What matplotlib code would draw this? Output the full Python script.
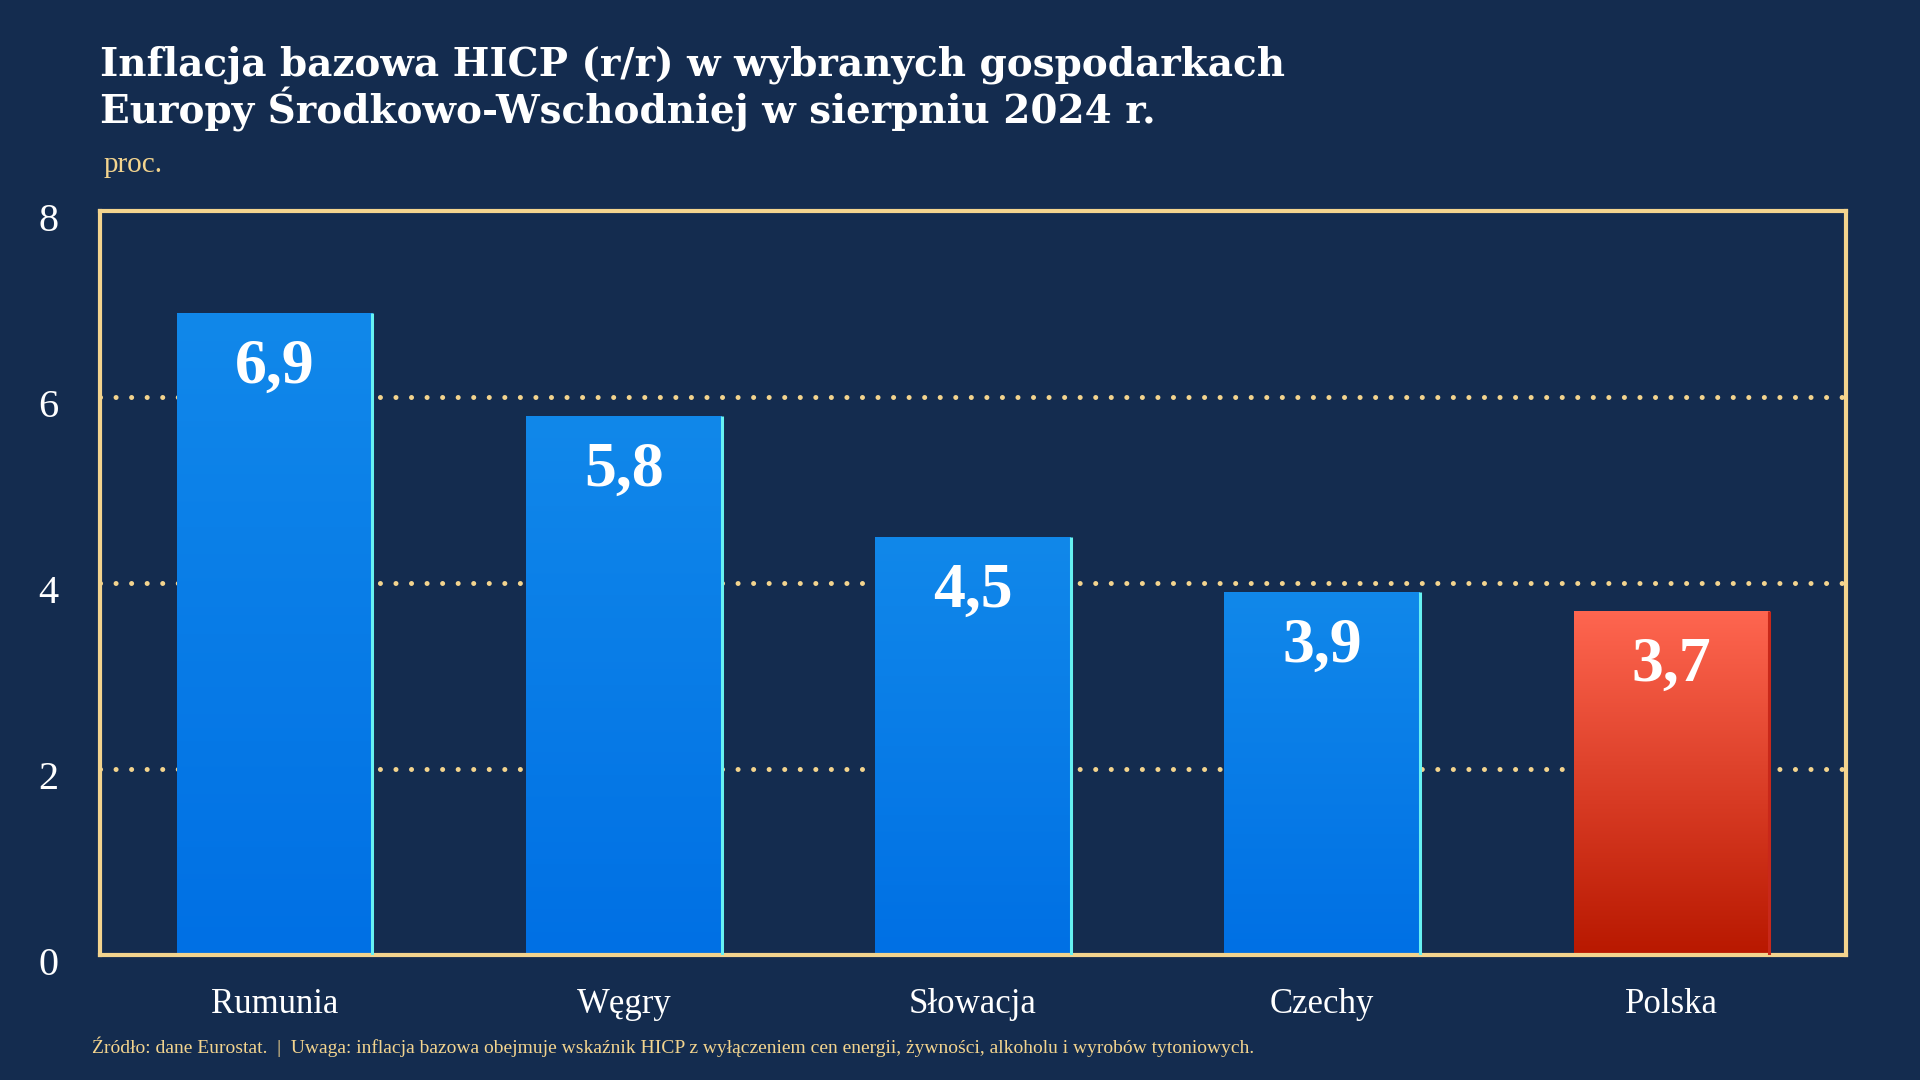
import matplotlib.pyplot as plt
import numpy as np
from matplotlib.colors import LinearSegmentedColormap
from matplotlib.transforms import ScaledTranslation

# dane: inflacja bazowa HICP r/r, sierpień 2024
kraje = ["Rumunia", "Węgry", "Słowacja", "Czechy", "Polska"]
wartosci = [6.9, 5.8, 4.5, 3.9, 3.7]
etykiety = ["6,9", "5,8", "4,5", "3,9", "3,7"]
yticks = [0, 2, 4, 6, 8]

TLO = "#142c4f"
ZOLTY = "#f3d48e"

plt.rcParams["font.family"] = ["Liberation Serif", "DejaVu Serif"]

fig = plt.figure(figsize=(19.2, 10.8), dpi=100, facecolor=TLO)
ax = fig.add_axes([100 / 1920, 1 - 955 / 1080, 1746 / 1920, 744 / 1080])
ax.set_facecolor(TLO)

x = np.arange(len(kraje))
szer = 0.56

niebieski = LinearSegmentedColormap.from_list("nieb", ["#0070e4", "#1188ea"])
czerwony = LinearSegmentedColormap.from_list("czer", ["#b81800", "#ff6650"])

# linie siatki (kropkowane), pod słupkami
for yv in [2, 4, 6]:
    ax.axhline(yv, color=ZOLTY, lw=3.6, linestyle=(0, (0.01, 3.1)),
               dash_capstyle="round", zorder=1)

grad = np.linspace(0, 1, 256).reshape(-1, 1)
for i, (k, v) in enumerate(zip(kraje, wartosci)):
    cmap = czerwony if k == "Polska" else niebieski
    krawedz = "#c8281a" if k == "Polska" else "#66f2f2"
    bar = ax.bar(x[i], v, width=szer, color="none", zorder=2)[0]
    x0 = x[i] - szer / 2
    x1 = x[i] + szer / 2
    im = ax.imshow(grad, extent=[x0, x1, 0, v], origin="lower", cmap=cmap,
                   aspect="auto", zorder=2)
    im.set_clip_path(bar)
    ax.plot([x1, x1], [0, v], color=krawedz, lw=2.2, zorder=3,
            solid_capstyle="butt")
    ax.text(x[i], v - 0.59, etykiety[i], ha="center", va="center",
            color="white", fontsize=46, fontweight="bold", zorder=4)

ax.set_xlim(-0.5, len(kraje) - 0.5)
ax.set_ylim(0, 8)
ax.set_xticks(x)
ax.set_xticklabels(kraje, fontsize=25, color="white")
ax.set_yticks(yticks)
ax.set_yticklabels([str(t) for t in yticks], fontsize=29, color="white")
ax.tick_params(axis="x", length=0, pad=24)
ax.tick_params(axis="y", length=0, pad=30)
przes = ScaledTranslation(0, -6 / 100, fig.dpi_scale_trans)
for lab in ax.get_yticklabels():
    lab.set_transform(lab.get_transform() + przes)
for s in ax.spines.values():
    s.set_color(ZOLTY)
    s.set_linewidth(3)

fig.text(100 / 1920, 1 - 75 / 1080,
         "Inflacja bazowa HICP (r/r) w wybranych gospodarkach",
         fontsize=28, fontweight="bold", color="white", va="baseline",
         family="DejaVu Serif")
fig.text(100 / 1920, 1 - 123 / 1080,
         "Europy Środkowo-Wschodniej w sierpniu 2024 r.",
         fontsize=28, fontweight="bold", color="white", va="baseline",
         family="DejaVu Serif")
fig.text(104 / 1920, 1 - 172 / 1080, "proc.", fontsize=21, color=ZOLTY,
         va="baseline")
fig.text(92 / 1920, 1 - 1053 / 1080,
         "Źródło: dane Eurostat.  |  Uwaga: inflacja bazowa obejmuje wskaźnik HICP "
         "z wyłączeniem cen energii, żywności, alkoholu i wyrobów tytoniowych.",
         fontsize=14, color=ZOLTY, va="baseline")

fig.savefig("out.png", dpi=100, facecolor=TLO)
